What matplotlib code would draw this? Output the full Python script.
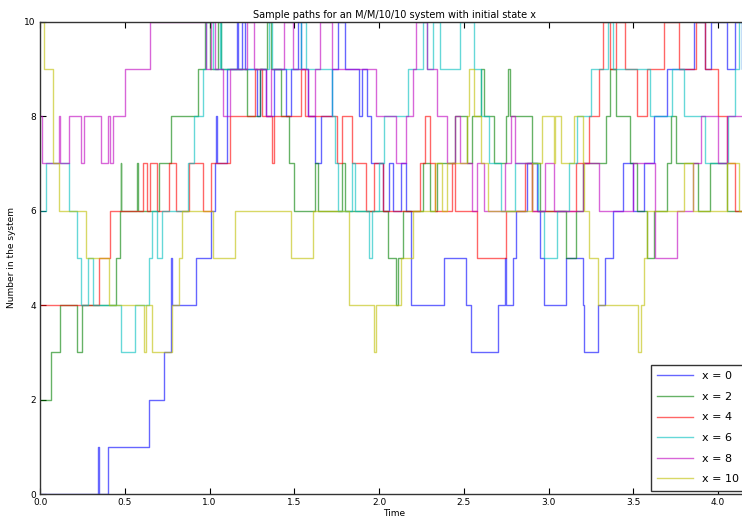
import matplotlib
matplotlib.use("Agg")
import matplotlib.pyplot as plt

# initial states
starts = [0, 2, 4, 6, 8, 10]
colors = ['b', 'g', 'r', 'c', 'm', 'y']

# jump times and states, one path per initial state
t0 = [0, 0.34, 0.35, 0.40, 0.645, 0.73, 0.77, 0.775, 0.78, 0.92, 1.01, 1.03, 1.04, 1.045, 1.10,
      1.16, 1.17, 1.19, 1.21, 1.28, 1.30, 1.33, 1.38, 1.45, 1.48, 1.52, 1.54, 1.58, 1.62, 1.66,
      1.72, 1.76, 1.80, 1.88, 1.90, 1.93, 1.95, 2.02, 2.06, 2.08, 2.13, 2.16, 2.19, 2.38, 2.51,
      2.54, 2.70, 2.74, 2.75, 2.79, 2.81, 2.87, 2.93, 2.95, 2.97, 3.10, 3.20, 3.21, 3.29, 3.33,
      3.38, 3.44, 3.50, 3.56, 3.62, 3.70, 3.86, 3.92, 3.96, 4.05, 4.10, 4.14]
n0 = [0, 1, 0, 1, 2, 3, 4, 5, 4, 5, 6, 7, 8, 7, 9,
      10, 9, 10, 9, 8, 9, 8, 9, 8, 9, 10, 9, 8, 7, 8,
      9, 10, 9, 8, 9, 8, 7, 6, 7, 6, 7, 6, 4, 5, 4,
      3, 4, 5, 4, 5, 6, 7, 6, 5, 4, 5, 4, 3, 4, 5,
      6, 7, 6, 7, 8, 9, 10, 9, 10, 9, 10, 9]

t2 = [0, 0.065, 0.12, 0.22, 0.25, 0.45, 0.47, 0.475, 0.48, 0.57, 0.575, 0.70, 0.77, 0.93, 0.97,
      1.00, 1.05, 1.07, 1.22, 1.30, 1.34, 1.36, 1.42, 1.47, 1.50, 1.62, 1.64, 1.78, 1.80, 2.05,
      2.10, 2.11, 2.14, 2.26, 2.30, 2.34, 2.45, 2.52, 2.55, 2.60, 2.62, 2.68, 2.75, 2.76, 2.77,
      2.90, 2.95, 3.10, 3.16, 3.20, 3.34, 3.36, 3.40, 3.48, 3.52, 3.58, 3.62, 3.70, 3.72, 3.75,
      3.88, 3.95, 4.05]
n2 = [2, 3, 4, 3, 4, 5, 6, 7, 6, 7, 6, 7, 8, 9, 10,
      9, 10, 9, 8, 9, 10, 9, 8, 7, 6, 7, 6, 7, 6, 5,
      4, 5, 6, 7, 6, 7, 8, 7, 8, 9, 8, 7, 8, 9, 8,
      7, 6, 5, 6, 7, 8, 9, 8, 7, 6, 5, 6, 7, 8, 7,
      6, 7, 6]

t4 = [0, 0.345, 0.415, 0.61, 0.63, 0.65, 0.69, 0.76, 0.80, 0.88, 0.96, 1.01, 1.12, 1.27, 1.31,
      1.37, 1.38, 1.54, 1.56, 1.75, 1.78, 1.84, 1.92, 1.97, 2.02, 2.24, 2.27, 2.30, 2.33, 2.43,
      2.45, 2.58, 2.75, 2.86, 2.90, 3.16, 3.24, 3.30, 3.32, 3.36, 3.40, 3.45, 3.52, 3.58, 3.68,
      3.77, 3.87, 3.92, 4.00, 4.05, 4.10]
n4 = [4, 5, 6, 7, 6, 7, 6, 7, 6, 7, 6, 7, 8, 9, 8,
      7, 8, 9, 8, 7, 8, 7, 6, 7, 6, 7, 8, 7, 6, 7,
      6, 5, 6, 7, 6, 7, 8, 9, 10, 9, 10, 9, 8, 9, 10,
      9, 10, 9, 8, 7, 6]

t6 = [0, 0.036, 0.17, 0.22, 0.24, 0.285, 0.31, 0.48, 0.56, 0.64, 0.66, 0.69, 0.72, 0.87, 0.91,
      0.96, 0.98, 1.02, 1.06, 1.07, 1.35, 1.37, 1.54, 1.57, 1.72, 1.74, 1.76, 1.84, 1.86, 1.94,
      1.96, 2.00, 2.03, 2.17, 2.26, 2.28, 2.32, 2.36, 2.48, 2.56, 2.60, 2.65, 2.72, 2.80, 2.94,
      2.97, 3.05, 3.12, 3.17, 3.25, 3.35, 3.38, 3.60, 3.73, 3.80, 3.92, 4.06, 4.10, 4.12, 4.14]
n6 = [6, 7, 6, 5, 4, 5, 4, 3, 4, 5, 6, 5, 6, 7, 8,
      9, 10, 9, 10, 9, 10, 9, 10, 9, 8, 7, 6, 7, 6, 5,
      6, 7, 8, 9, 10, 9, 10, 9, 10, 9, 8, 7, 6, 7, 6,
      5, 6, 7, 8, 9, 10, 9, 8, 9, 8, 7, 8, 9, 10, 9]

t8 = [0, 0.01, 0.11, 0.12, 0.17, 0.24, 0.26, 0.36, 0.40, 0.415, 0.43, 0.50, 0.65, 0.98, 1.01,
      1.03, 1.08, 1.12, 1.22, 1.26, 1.33, 1.36, 1.44, 1.49, 1.58, 1.62, 1.65, 1.72, 1.98, 2.10,
      2.16, 2.20, 2.22, 2.28, 2.34, 2.40, 2.45, 2.48, 2.55, 2.58, 2.62, 2.74, 2.78, 2.80, 2.90,
      2.98, 3.03, 3.20, 3.30, 3.50, 3.63, 3.76, 3.85, 3.90, 4.00, 4.05]
n8 = [8, 7, 8, 7, 8, 7, 8, 7, 8, 7, 8, 9, 10, 9, 10,
      9, 8, 9, 10, 9, 8, 9, 10, 9, 8, 9, 10, 9, 8, 7,
      8, 9, 10, 9, 8, 7, 8, 7, 6, 7, 6, 7, 8, 7, 6,
      7, 6, 7, 6, 7, 5, 6, 7, 8, 7, 8]

t10 = [0, 0.024, 0.077, 0.11, 0.27, 0.405, 0.615, 0.625, 0.66, 0.78, 0.82, 0.84, 1.02, 1.15, 1.48,
       1.61, 1.82, 1.825, 1.97, 1.98, 2.13, 2.20, 2.33, 2.37, 2.40, 2.52, 2.53, 2.56, 2.60, 2.64,
       2.90, 2.96, 3.03, 3.04, 3.07, 3.15, 3.20, 3.21, 3.24, 3.29, 3.53, 3.545, 3.56, 3.58, 3.80,
       3.85, 4.05, 4.12]
n10 = [10, 9, 7, 6, 5, 4, 3, 4, 3, 4, 5, 6, 5, 6, 5,
       6, 5, 4, 3, 4, 5, 6, 7, 6, 7, 8, 9, 8, 7, 6,
       7, 8, 7, 8, 7, 8, 7, 6, 5, 4, 3, 4, 5, 6, 7,
       6, 7, 6]

times = [t0, t2, t4, t6, t8, t10]
states = [n0, n2, n4, n6, n8, n10]

t_end = 4.3

fig = plt.figure(figsize=(7.42, 5.19), dpi=100)
ax = fig.add_axes([0.054, 0.048, 0.955, 0.910])

for x, c, t, n in zip(starts, colors, times, states):
    ax.step(t + [t_end], n + [n[-1]], where='post', color=c, alpha=0.6, lw=1.0,
            label='x = %d' % x)

ax.set_xlim(0, 4.18)
ax.set_ylim(0, 10)
ax.set_xticks([0.0, 0.5, 1.0, 1.5, 2.0, 2.5, 3.0, 3.5, 4.0])
ax.set_yticks([0, 2, 4, 6, 8, 10])
ax.tick_params(direction='in', top=True, right=True, labelsize=6.5, length=4, pad=3)
ax.set_title('Sample paths for an M/M/10/10 system with initial state x', fontsize=7, pad=3)
ax.set_xlabel('Time', fontsize=6.5, labelpad=1)
ax.set_ylabel('Number in the system', fontsize=6.5, labelpad=6)
for s in ax.spines.values():
    s.set_color('#333333')
    s.set_linewidth(1.0)

leg = ax.legend(loc='lower right', fontsize=8, fancybox=False, framealpha=1,
                borderaxespad=0.3, handlelength=3.2, labelspacing=0.95, borderpad=0.6)
leg.get_frame().set_edgecolor('#333333')

fig.savefig('out.png', dpi=100)
